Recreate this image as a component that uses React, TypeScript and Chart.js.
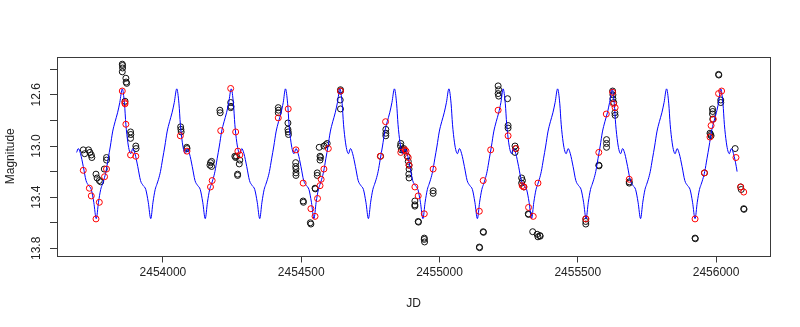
import React, { useEffect, useRef } from "react";
import { Chart, registerables } from "chart.js";

Chart.register(...registerables);

// ---- axis ticks ----
const xTicks = [2454000, 2454500, 2455000, 2455500, 2456000];
const yTicks = [12.4, 12.6, 12.8, 13.0, 13.2, 13.4, 13.6, 13.8];
const yLabelValues = [12.6, 13.0, 13.4, 13.8];
const yLabelText = ["12.6", "13.0", "13.4", "13.8"];

// ---- model curve (blue) ----
const modelJD = [
  2453688, 2453694, 2453702, 2453712, 2453722, 2453732, 2453741, 2453750, 2453759, 2453767, 2453775, 2453781, 2453787, 2453794, 2453802, 2453810, 2453818, 2453827, 2453836, 2453844,
  2453853, 2453861, 2453866, 2453873, 2453879, 2453884, 2453891, 2453899, 2453909, 2453919, 2453929, 2453938, 2453947, 2453956, 2453964, 2453972, 2453978, 2453984, 2453991, 2453999, 2454007, 2454015, 2454024, 2454033, 2454041,
  2454050, 2454058, 2454063, 2454070, 2454076, 2454081, 2454088, 2454096, 2454106, 2454116, 2454126, 2454135, 2454144, 2454153, 2454161, 2454169, 2454175, 2454181, 2454188, 2454196, 2454204, 2454212, 2454221, 2454230, 2454238,
  2454247, 2454255, 2454260, 2454267, 2454273, 2454278, 2454285, 2454293, 2454303, 2454313, 2454323, 2454332, 2454341, 2454350, 2454358, 2454366, 2454372, 2454378, 2454385, 2454393, 2454401, 2454409, 2454418, 2454427, 2454435,
  2454443, 2454451, 2454456, 2454463, 2454469, 2454474, 2454481, 2454489, 2454499, 2454509, 2454519, 2454528, 2454537, 2454546, 2454554, 2454562, 2454568, 2454574, 2454581, 2454589, 2454597, 2454605, 2454614, 2454623, 2454631,
  2454640, 2454648, 2454653, 2454660, 2454666, 2454671, 2454678, 2454686, 2454696, 2454706, 2454716, 2454725, 2454734, 2454743, 2454751, 2454759, 2454765, 2454771, 2454778, 2454786, 2454794, 2454802, 2454811, 2454820, 2454828,
  2454837, 2454845, 2454850, 2454857, 2454863, 2454868, 2454875, 2454883, 2454893, 2454903, 2454913, 2454922, 2454931, 2454940, 2454948, 2454956, 2454962, 2454968, 2454975, 2454983, 2454991, 2454999, 2455008, 2455017, 2455025,
  2455034, 2455042, 2455047, 2455054, 2455060, 2455065, 2455072, 2455080, 2455090, 2455100, 2455110, 2455119, 2455128, 2455137, 2455145, 2455153, 2455159, 2455165, 2455172, 2455180, 2455188, 2455196, 2455205, 2455214, 2455222,
  2455230, 2455238, 2455243, 2455250, 2455256, 2455261, 2455268, 2455276, 2455286, 2455296, 2455306, 2455315, 2455324, 2455333, 2455341, 2455349, 2455355, 2455361, 2455368, 2455376, 2455384, 2455392, 2455401, 2455410, 2455418,
  2455427, 2455435, 2455440, 2455447, 2455453, 2455458, 2455465, 2455473, 2455483, 2455493, 2455503, 2455512, 2455521, 2455530, 2455538, 2455546, 2455552, 2455558, 2455565, 2455573, 2455581, 2455589, 2455598, 2455607, 2455615,
  2455624, 2455632, 2455637, 2455644, 2455650, 2455655, 2455662, 2455670, 2455680, 2455690, 2455700, 2455709, 2455718, 2455727, 2455735, 2455743, 2455749, 2455755, 2455762, 2455770, 2455778, 2455786, 2455795, 2455804, 2455812,
  2455821, 2455829, 2455834, 2455841, 2455847, 2455852, 2455859, 2455867, 2455877, 2455887, 2455897, 2455906, 2455915, 2455924, 2455932, 2455940, 2455946, 2455952, 2455959, 2455967, 2455975, 2455983, 2455992, 2456001, 2456009,
  2456017, 2456025, 2456030, 2456037, 2456043, 2456048, 2456055, 2456063, 2456073, 2456076,
];
const modelMag = [
  13.05, 13.02, 13.06, 13.16, 13.27, 13.31, 13.34, 13.44, 13.568, 13.44, 13.34, 13.30, 13.26, 13.20, 13.10, 13.00, 12.89, 12.81, 12.74, 12.66,
  12.553, 12.67, 12.83, 12.97, 13.04, 13.06, 13.02, 13.06, 13.16, 13.27, 13.31, 13.34, 13.44, 13.568, 13.44, 13.34, 13.30, 13.26, 13.20, 13.10, 13.00, 12.89, 12.81, 12.74, 12.66,
  12.553, 12.67, 12.83, 12.97, 13.04, 13.06, 13.02, 13.06, 13.16, 13.27, 13.31, 13.34, 13.44, 13.568, 13.44, 13.34, 13.30, 13.26, 13.20, 13.10, 13.00, 12.89, 12.81, 12.74, 12.66,
  12.553, 12.67, 12.83, 12.97, 13.04, 13.06, 13.02, 13.06, 13.16, 13.27, 13.31, 13.34, 13.44, 13.568, 13.44, 13.34, 13.30, 13.26, 13.20, 13.10, 13.00, 12.89, 12.81, 12.74, 12.66,
  12.553, 12.67, 12.83, 12.97, 13.04, 13.06, 13.02, 13.06, 13.16, 13.27, 13.31, 13.34, 13.44, 13.568, 13.44, 13.34, 13.30, 13.26, 13.20, 13.10, 13.00, 12.89, 12.81, 12.74, 12.66,
  12.553, 12.67, 12.83, 12.97, 13.04, 13.06, 13.02, 13.06, 13.16, 13.27, 13.31, 13.34, 13.44, 13.568, 13.44, 13.34, 13.30, 13.26, 13.20, 13.10, 13.00, 12.89, 12.81, 12.74, 12.66,
  12.553, 12.67, 12.83, 12.97, 13.04, 13.06, 13.02, 13.06, 13.16, 13.27, 13.31, 13.34, 13.44, 13.568, 13.44, 13.34, 13.30, 13.26, 13.20, 13.10, 13.00, 12.89, 12.81, 12.74, 12.66,
  12.553, 12.67, 12.83, 12.97, 13.04, 13.06, 13.02, 13.06, 13.16, 13.27, 13.31, 13.34, 13.44, 13.568, 13.44, 13.34, 13.30, 13.26, 13.20, 13.10, 13.00, 12.89, 12.81, 12.74, 12.66,
  12.553, 12.67, 12.83, 12.97, 13.04, 13.06, 13.02, 13.06, 13.16, 13.27, 13.31, 13.34, 13.44, 13.568, 13.44, 13.34, 13.30, 13.26, 13.20, 13.10, 13.00, 12.89, 12.81, 12.74, 12.66,
  12.553, 12.67, 12.83, 12.97, 13.04, 13.06, 13.02, 13.06, 13.16, 13.27, 13.31, 13.34, 13.44, 13.568, 13.44, 13.34, 13.30, 13.26, 13.20, 13.10, 13.00, 12.89, 12.81, 12.74, 12.66,
  12.553, 12.67, 12.83, 12.97, 13.04, 13.06, 13.02, 13.06, 13.16, 13.27, 13.31, 13.34, 13.44, 13.568, 13.44, 13.34, 13.30, 13.26, 13.20, 13.10, 13.00, 12.89, 12.81, 12.74, 12.66,
  12.553, 12.67, 12.83, 12.97, 13.04, 13.06, 13.02, 13.06, 13.16, 13.27, 13.31, 13.34, 13.44, 13.568, 13.44, 13.34, 13.30, 13.26, 13.20, 13.10, 13.00, 12.89, 12.81, 12.74, 12.66,
  12.553, 12.67, 12.83, 12.97, 13.04, 13.06, 13.02, 13.06, 13.16, 13.20,
];

// ---- observations (black circles) ----
const obsJD = [
  2453712, 2453717, 2453731, 2453736, 2453741, 2453743, 2453758, 2453762, 2453770, 2453775, 2453796, 2453796, 2453788,
  2453853, 2453854, 2453854, 2453853, 2453866, 2453867, 2453869, 2453863, 2453883, 2453884, 2453883, 2453902, 2453903,
  2454064, 2454065, 2454066, 2454086, 2454087, 2454170, 2454172, 2454176, 2454176, 2454206, 2454207,
  2454245, 2454246, 2454245, 2454260, 2454263, 2454266, 2454278, 2454276, 2454270, 2454270,
  2454417, 2454418, 2454417, 2454452, 2454452, 2454453, 2454454, 2454480, 2454480, 2454481, 2454481, 2454481,
  2454507, 2454508, 2454533, 2454535, 2454550, 2454551, 2454558, 2454558, 2454565, 2454568, 2454568, 2454570,
  2454582, 2454589, 2454594, 2454642, 2454642, 2454641, 2454642,
  2454806, 2454806, 2454806, 2454787, 2454860, 2454859, 2454862, 2454869, 2454871, 2454883, 2454887, 2454890,
  2454890, 2454889, 2454890, 2454911, 2454911, 2454911, 2454923, 2454924, 2454945, 2454945, 2454946, 2454977, 2454977,
  2455144, 2455145, 2455158, 2455159, 2455212, 2455214, 2455212, 2455214, 2455246, 2455248, 2455248,
  2455273, 2455276, 2455273, 2455297, 2455300, 2455297, 2455305, 2455321, 2455322, 2455337, 2455353, 2455356, 2455363, 2455364,
  2455529, 2455529, 2455529, 2455576, 2455577, 2455604, 2455604, 2455604, 2455626, 2455627, 2455627, 2455630, 2455634, 2455635,
  2455686, 2455686, 2455924, 2455925, 2455958, 2455978, 2455980, 2455982, 2455987, 2455988, 2455987, 2455988,
  2456009, 2456010, 2456017, 2456017, 2456069, 2456089, 2456091, 2456100, 2456101,
];
const obsMag = [
  13.03, 13.06, 13.03, 13.05, 13.07, 13.09, 13.22, 13.25, 13.27, 13.28, 13.09, 13.11, 13.18,
  12.36, 12.37, 12.39, 12.42, 12.47, 12.50, 12.51, 12.65, 12.89, 12.91, 12.94, 13.00, 13.02,
  12.85, 12.87, 12.89, 13.01, 13.02, 13.15, 13.13, 13.12, 13.16, 12.72, 12.74,
  12.66, 12.69, 12.70, 13.08, 13.09, 13.08, 13.11, 13.14, 13.22, 13.23,
  12.70, 12.72, 12.74, 12.82, 12.87, 12.89, 12.91, 13.13, 13.16, 13.18, 13.21, 13.23,
  13.43, 13.44, 13.60, 13.61, 13.33, 13.335, 13.21, 13.23, 13.01, 13.08, 13.11, 13.09,
  13.00, 12.99, 12.98, 12.56, 12.57, 12.64, 12.71,
  12.87, 12.90, 12.92, 13.08, 12.98, 13.00, 13.03, 13.03, 13.02, 13.08, 13.12, 13.15,
  13.18, 13.22, 13.25, 13.43, 13.46, 13.47, 13.59, 13.595, 13.72, 13.73, 13.75, 13.35, 13.37,
  13.79, 13.795, 13.67, 13.675, 12.53, 12.56, 12.59, 12.61, 12.63, 12.84, 12.86,
  13.00, 13.02, 13.05, 13.25, 13.27, 13.29, 13.32, 13.53, 13.535, 13.67, 13.69, 13.71, 13.70, 13.705,
  13.57, 13.59, 13.61, 13.15, 13.155, 12.95, 12.98, 13.01, 12.57, 12.60, 12.63, 12.66, 12.74, 12.76,
  13.28, 13.29, 13.72, 13.725, 13.21, 12.90, 12.91, 12.92, 12.71, 12.73, 12.75, 12.79,
  12.44, 12.445, 12.64, 12.66, 13.02, 13.32, 13.34, 13.49, 13.495,
];

// ---- model at observation times (red circles) ----
const fitJD = [
  2453712, 2453734, 2453741, 2453758, 2453770, 2453789, 2453796, 2453853, 2453862, 2453863, 2453866, 2453883, 2453902,
  2454063, 2454087, 2454172, 2454178, 2454209, 2454245, 2454263, 2454271, 2454278,
  2454417, 2454453, 2454481, 2454507, 2454535, 2454550, 2454559, 2454568, 2454572, 2454582, 2454598, 2454642,
  2454786, 2454805, 2454860, 2454875, 2454879, 2454887, 2454890, 2454911, 2454923, 2454945, 2454977,
  2455144, 2455158, 2455185, 2455212, 2455248, 2455276, 2455299, 2455305, 2455322, 2455339, 2455356,
  2455529, 2455576, 2455603, 2455626, 2455629, 2455635, 2455686,
  2455924, 2455958, 2455978, 2455982, 2455990, 2456009, 2456020, 2456072, 2456089, 2456100,
];
const fitMag = [
  13.19, 13.33, 13.39, 13.57, 13.44, 13.24, 13.18, 12.57, 12.66, 12.67, 12.83, 13.07, 13.08,
  12.92, 13.04, 13.32, 13.27, 12.88, 12.55, 12.89, 13.04, 13.07,
  12.78, 12.71, 13.03, 13.29, 13.49, 13.55, 13.41, 13.31, 13.26, 13.18, 13.02, 12.57,
  13.08, 12.81, 13.05, 13.03, 13.04, 13.09, 13.15, 13.32, 13.39, 13.53, 13.18,
  13.51, 13.27, 13.03, 12.72, 12.92, 13.02, 13.31, 13.32, 13.48, 13.55, 13.29,
  13.57, 13.05, 12.75, 12.58, 12.67, 12.70, 13.26,
  13.57, 13.21, 12.93, 12.84, 12.79, 12.59, 12.57, 13.09, 13.32, 13.36,
];

const FONT = '"Liberation Sans", Arial, Helvetica, sans-serif';
const AXIS_COLOR = "#3a3a3a";

const framePlugin = {
  id: "rframe",
  afterDraw(chart: any) {
    const { ctx, chartArea: a, scales } = chart;
    ctx.save();
    ctx.strokeStyle = AXIS_COLOR;
    ctx.lineWidth = 1;
    ctx.strokeRect(
      Math.round(a.left) + 0.5,
      Math.round(a.top) + 0.5,
      Math.round(a.right - a.left),
      Math.round(a.bottom - a.top)
    );
    const ys = scales.y;
    ctx.fillStyle = "#222";
    ctx.font = "12px " + FONT;
    ctx.textAlign = "center";
    ctx.textBaseline = "middle";
    yLabelValues.forEach((v, i) => {
      const py = ys.getPixelForValue(v);
      ctx.save();
      ctx.translate(37, py);
      ctx.rotate(-Math.PI / 2);
      ctx.fillText(yLabelText[i], 0, 0);
      ctx.restore();
    });
    ctx.restore();
  },
};

export default function App() {
  const ref = useRef<HTMLCanvasElement | null>(null);

  useEffect(() => {
    if (!ref.current) return;
    Chart.defaults.font.family = FONT;
    Chart.defaults.color = "#222";

    const model = modelJD.map((x, i) => ({ x, y: modelMag[i] }));
    const obs = obsJD.map((x, i) => ({ x, y: obsMag[i] }));
    const fit = fitJD.map((x, i) => ({ x, y: fitMag[i] }));

    const chart = new Chart(ref.current, {
      type: "scatter",
      data: {
        datasets: [
          {
            label: "fit",
            data: fit,
            order: 0,
            pointRadius: 3,
            pointBorderWidth: 1,
            pointBorderColor: "#ff0000",
            pointBackgroundColor: "rgba(0,0,0,0)",
            showLine: false,
          },
          {
            label: "model",
            data: model,
            order: 1,
            showLine: true,
            borderColor: "#0000ff",
            borderWidth: 1,
            pointRadius: 0,
            cubicInterpolationMode: "monotone",
            fill: false,
          } as any,
          {
            label: "obs",
            data: obs,
            order: 2,
            pointRadius: 3,
            pointBorderWidth: 1,
            pointBorderColor: "#111111",
            pointBackgroundColor: "rgba(0,0,0,0)",
            showLine: false,
          },
        ],
      },
      options: {
        animation: false,
        responsive: false,
        maintainAspectRatio: false,
        events: [],
        layout: { padding: { top: 57, right: 30, left: 0, bottom: 0 } },
        plugins: { legend: { display: false }, tooltip: { enabled: false } },
        scales: {
          x: {
            type: "linear",
            min: 2453617,
            max: 2456195,
            afterBuildTicks: (s: any) => {
              s.ticks = xTicks.map((v) => ({ value: v }));
            },
            afterFit: (s: any) => {
              s.height = 71.5;
            },
            ticks: {
              autoSkip: false,
              maxRotation: 0,
              minRotation: 0,
              padding: 3,
              color: "#222",
              font: { size: 12, family: FONT },
              callback: (v: any) => String(v),
            },
            grid: {
              drawOnChartArea: false,
              drawTicks: true,
              tickLength: 7,
              color: AXIS_COLOR,
              lineWidth: 1,
            },
            border: { display: false },
            title: {
              display: true,
              text: "JD",
              color: "#222",
              font: { size: 12, family: FONT },
              padding: { top: 0, bottom: 16 },
            },
          },
          y: {
            type: "linear",
            reverse: true,
            min: 12.304,
            max: 13.856,
            afterBuildTicks: (s: any) => {
              s.ticks = yTicks.map((v) => ({ value: v }));
            },
            afterFit: (s: any) => {
              s.width = 57;
            },
            ticks: { display: false },
            grid: {
              drawOnChartArea: false,
              drawTicks: true,
              tickLength: 7,
              color: AXIS_COLOR,
              lineWidth: 1,
            },
            border: { display: false },
            title: {
              display: true,
              text: "Magnitude",
              color: "#222",
              font: { size: 12, family: FONT },
              padding: { top: 3, bottom: 0 },
            },
          },
        },
      },
      plugins: [framePlugin],
    });
    return () => chart.destroy();
  }, []);

  return (
    <div style={{ position: "fixed", left: 0, top: 0, width: 800, height: 327, background: "#fff" }}>
      <canvas ref={ref} width={800} height={327} style={{ width: 800, height: 327, display: "block" }} />
    </div>
  );
}
